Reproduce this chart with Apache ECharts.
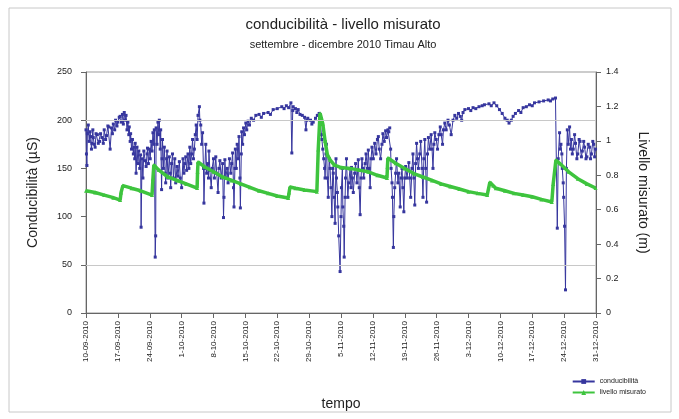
<!DOCTYPE html>
<html>
<head>
<meta charset="utf-8">
<script src="https://cdn.jsdelivr.net/npm/echarts@6/dist/echarts.min.js"></script>
<style>
  html, body { margin: 0; padding: 0; background: #fff; }
  #chart { width: 679px; height: 419px; }
</style>
</head>
<body>
<div id="chart"></div>
<script>
// giorni dal 10-09-2010
const tickLabels = ["10-09-2010","17-09-2010","24-09-2010","1-10-2010","8-10-2010","15-10-2010",
  "22-10-2010","29-10-2010","5-11-2010","12-11-2010","19-11-2010","26-11-2010","3-12-2010",
  "10-12-2010","17-12-2010","24-12-2010","31-12-2010"];

// conducibilità (µS): [giorno, valore]
const conducibilita = [
  [0,190],[0.1,165],[0.2,153],[0.3,186],[0.5,195],[0.7,178],[0.9,188],[1,183],[1.2,170],[1.3,176],
  [1.5,190],[1.6,182],[1.8,175],[2,172],[2.2,186],[2.5,185],[2.7,176],[3,178],[3.2,186],[3.5,182],
  [3.8,176],[4,190],[4.3,180],[4.5,184],[4.8,194],[5,193],[5.3,170],[5.6,192],[5.8,186],[6,196],
  [6.3,190],[6.5,200],[6.8,194],[7,198],[7.3,203],[7.5,204],[7.8,198],[8,206],[8.2,196],[8.4,208],
  [8.6,200],[8.8,205],[9,190],[9.2,198],[9.4,185],[9.5,193],[9.7,178],[9.8,186],[10,170],[10.2,180],
  [10.4,165],[10.5,172],[10.7,160],[10.8,176],[11,145],[11.2,172],[11.4,155],[11.6,168],[11.8,150],
  [12,164],[12.1,89],[12.3,160],[12.5,140],[12.7,168],[13,158],[13.2,152],[13.4,165],[13.5,171],
  [13.7,155],[13.9,170],[14.1,160],[14.3,178],[14.5,168],[14.7,187],[14.9,175],[15,190],[15.2,58],
  [15.3,80],[15.4,192],[15.6,175],[15.8,198],[16,185],[16.1,200],[16.3,170],[16.4,190],[16.6,128],
  [16.7,160],[16.8,180],[17,150],[17.2,172],[17.4,145],[17.5,135],[17.7,160],[17.8,168],[18,140],
  [18.3,162],[18.5,145],[18.6,130],[18.8,155],[19,165],[19.2,140],[19.5,160],[19.7,135],[20,152],
  [20.2,142],[20.5,157],[20.7,140],[21,130],[21.3,160],[21.5,145],[21.7,155],[21.9,162],[22.1,148],
  [22.4,165],[22.6,150],[22.8,172],[23,155],[23.2,165],[23.4,180],[23.6,160],[23.8,170],[24,185],
  [24.2,195],[24.4,180],[24.6,205],[24.9,214],[25,200],[25.2,195],[25.4,175],[25.6,187],[25.8,150],
  [25.9,114],[26.1,150],[26.3,175],[26.5,145],[26.7,155],[26.9,140],[27,168],[27.2,148],[27.5,130],
  [27.7,150],[28,160],[28.2,140],[28.5,162],[28.7,145],[29,125],[29.2,150],[29.4,158],[29.7,140],
  [30,155],[30.2,99],[30.3,120],[30.5,159],[30.7,140],[31,150],[31.2,135],[31.5,160],[31.8,145],
  [32,155],[32.2,166],[32.4,130],[32.5,110],[32.7,150],[32.8,170],[33,150],[33.2,175],[33.4,160],
  [33.6,183],[33.8,140],[33.9,109],[34.1,165],[34.2,188],[34.4,175],[34.6,192],[34.8,185],[35.1,197],
  [35.3,190],[35.6,199],[35.9,195],[36.3,202],[36.8,200],[37.3,205],[38,206],[38.5,203],[39,207],
  [40,208],[40.5,206],[41.1,211],[42,212],[43,214],[43.5,212],[44,215],[44.5,213],[45,218],[45.2,166],
  [45.4,210],[45.5,214],[46,212],[46.3,208],[46.6,211],[47,206],[47.5,205],[48,203],[48.3,190],
  [48.5,200],[48.7,202],[49.3,200],[49.6,196],[49.9,198],[50.4,202],[50.8,205],[51.2,207],[51.4,200],
  [51.5,196],[51.7,185],[51.8,180],[52,170],[52.2,160],[52.4,150],[52.5,140],[52.7,165],[52.8,175],
  [53,140],[53.2,120],[53.4,160],[53.6,150],[53.8,130],[54,100],[54.2,150],[54.3,145],[54.5,120],
  [54.7,93],[54.9,160],[55,140],[55.2,125],[55.3,110],[55.5,80],[55.8,43],[56,100],[56.1,130],
  [56.3,150],[56.4,110],[56.6,90],[56.7,58],[56.9,120],[57,140],[57.2,160],[57.5,120],[57.7,135],
  [58,150],[58.2,130],[58.3,151],[58.5,140],[58.7,125],[59,145],[59.2,155],[59.5,135],[59.8,159],
  [60,130],[60.2,102],[60.4,140],[60.6,160],[60.8,150],[61,140],[61.3,155],[61.5,165],[61.8,150],
  [62,169],[62.2,150],[62.4,130],[62.6,160],[62.8,172],[63.1,160],[63.4,176],[63.7,165],[64,180],
  [64.2,183],[64.4,170],[64.7,160],[65,175],[65.2,186],[65.5,178],[65.8,189],[66,182],[66.3,190],
  [66.5,188],[66.7,192],[66.9,170],[67,150],[67.2,135],[67.3,120],[67.5,68],[67.6,100],[67.8,130],
  [68,145],[68.2,160],[68.5,135],[68.7,145],[69,110],[69.2,140],[69.4,150],[69.6,130],[69.8,105],
  [70,140],[70.2,152],[70.5,140],[70.9,156],[71.1,140],[71.3,120],[71.6,150],[71.8,165],[72,140],
  [72.2,112],[72.4,155],[72.6,176],[72.8,160],[73,150],[73.3,165],[73.5,178],[73.8,150],[74,120],
  [74.2,160],[74.4,180],[74.6,150],[74.8,115],[75,165],[75.2,182],[75.5,170],[75.8,185],[76,170],
  [76.2,150],[76.4,175],[76.6,187],[76.9,180],[77.2,170],[77.5,185],[77.8,193],[78,185],[78.3,175],
  [78.5,190],[78.8,197],[79.1,190],[79.5,200],[79.8,195],[80.2,185],[80.6,200],[81,205],[81.4,202],
  [81.8,207],[82.2,204],[82.5,200],[82.8,208],[83.2,211],[84,212],[84.5,210],[85,213],[85.6,212],
  [86.3,214],[87,215],[87.5,216],[88.5,217],[89,215],[89.6,218],[90.2,215],[90.8,211],[91.4,207],
  [92,202],[92.5,200],[92.9,197],[93.4,200],[93.8,204],[94.3,207],[95,210],[95.5,208],[96,213],
  [96.7,214],[97.4,216],[98,215],[98.5,218],[99.5,219],[100.5,220],[101.5,221],[102,220],[102.5,222],
  [103.1,223],[103.5,88],[103.7,160],[104,187],[104.1,170],[104.3,175],[104.5,165],[104.6,150],
  [104.8,135],[104.9,120],[105.1,90],[105.3,24],[105.5,150],[105.7,190],[105.9,175],[106.2,193],
  [106.4,170],[106.6,180],[106.8,165],[107,170],[107.3,185],[107.5,176],[107.8,160],[108,165],
  [108.3,180],[108.5,178],[108.8,162],[109,168],[109.3,178],[109.5,172],[109.8,160],[110,162],
  [110.3,175],[110.6,172],[110.8,160],[111,165],[111.3,178],[111.5,175],[111.7,162],[111.9,170]
];

// livello misurato (m): [giorno, valore]
const livello = [
  [0,0.71],[2,0.70],[4,0.685],[6,0.67],[7.5,0.656],[7.7,0.70],[8.1,0.74],[10,0.725],[12,0.71],
  [14.5,0.685],[14.7,0.78],[14.9,0.86],[16,0.83],[18,0.79],[20,0.77],[22,0.75],[24.4,0.726],
  [24.5,0.82],[24.6,0.877],[26,0.85],[28,0.82],[30,0.79],[32,0.77],[34,0.75],[36,0.73],[38,0.71],
  [40,0.695],[42,0.68],[44.4,0.668],[44.6,0.70],[44.8,0.732],[46,0.725],[48,0.715],[50.7,0.705],
  [51,0.95],[51.4,1.16],[52,1.10],[52.5,1.0],[53,0.92],[53.6,0.89],[54.5,0.86],[56,0.845],[58,0.84],
  [60,0.83],[62,0.82],[64,0.80],[66.1,0.784],[66.2,0.85],[66.3,0.90],[68,0.87],[70,0.84],[72,0.81],
  [74,0.79],[76,0.77],[78,0.75],[80,0.735],[82,0.72],[84,0.705],[86,0.695],[88.1,0.685],[88.7,0.76],
  [89.4,0.74],[90,0.725],[92,0.71],[94,0.695],[96,0.685],[98,0.675],[100,0.66],[102.3,0.645],
  [102.6,0.75],[103.2,0.889],[104,0.87],[106,0.82],[108,0.78],[110,0.75],[111.9,0.726]
];

const chart = echarts.init(document.getElementById("chart"));
const txt = "#222";

chart.setOption({
  backgroundColor: "#fff",
  animation: false,
  graphic: [{
    type: "rect",
    shape: { x: 9, y: 8, width: 662, height: 404 },
    style: { fill: "none", stroke: "#c8c8c8", lineWidth: 1 }
  }],
  title: [
    { text: "conducibilità - livello misurato", left: 338, top: 12, textAlign: "center",
      textStyle: { fontFamily: "Liberation Sans", fontSize: 15, fontWeight: "normal", color: txt } },
    { text: "settembre - dicembre 2010 Timau Alto", left: 338, top: 34, textAlign: "center",
      textStyle: { fontFamily: "Liberation Sans", fontSize: 11, fontWeight: "normal", color: txt } }
  ],
  legend: {
    orient: "vertical", right: 28, bottom: 18, itemGap: 4, itemWidth: 22, itemHeight: 6,
    textStyle: { fontFamily: "Liberation Sans", fontSize: 7, color: txt },
    data: ["conducibilità", "livello misurato"]
  },
  grid: { left: 86, right: 83, top: 72, bottom: 106, show: true, borderColor: "#999", borderWidth: 1 },
  xAxis: {
    type: "value", min: 0, max: 112, interval: 7,
    name: "tempo", nameLocation: "middle", nameGap: 84,
    nameTextStyle: { fontFamily: "Liberation Sans", fontSize: 14, color: txt },
    axisLine: { lineStyle: { color: "#666" } },
    axisTick: { show: true, lineStyle: { color: "#666" } },
    splitLine: { show: false },
    axisLabel: { rotate: 90, fontSize: 8, color: txt, fontFamily: "Liberation Sans",
      formatter: v => tickLabels[Math.round(v / 7)] }
  },
  yAxis: [
    { type: "value", min: 0, max: 250, interval: 50, position: "left",
      name: "Conducibilità (µS)", nameLocation: "middle", nameGap: 46,
      nameTextStyle: { fontFamily: "Liberation Sans", fontSize: 14, color: txt },
      axisLine: { show: true, lineStyle: { color: "#666" } },
      axisTick: { show: true, lineStyle: { color: "#666" } },
      splitLine: { show: false },
      axisLabel: { fontSize: 9, color: txt, fontFamily: "Liberation Sans", margin: 14 } },
    { type: "value", min: 0, max: 1.4, interval: 0.2, position: "right",
      name: "Livello misurato (m)", nameLocation: "middle", nameGap: 40, nameRotate: -90,
      nameTextStyle: { fontFamily: "Liberation Sans", fontSize: 14, color: txt },
      axisLine: { show: true, lineStyle: { color: "#666" } },
      axisTick: { show: true, lineStyle: { color: "#666" } },
      splitLine: { show: false },
      axisLabel: { fontSize: 9, color: txt, fontFamily: "Liberation Sans", margin: 10 } }
  ],
  series: [
    {
      name: "conducibilità", type: "line", yAxisIndex: 0, data: conducibilita,
      symbol: "rect", symbolSize: 3, showAllSymbol: true,
      itemStyle: { color: "#36369e" },
      lineStyle: { color: "#36369e", width: 1 },
      markLine: {
        silent: true, symbol: "none", label: { show: false },
        lineStyle: { color: "#c8c8c8", type: "solid", width: 1 },
        data: [{ yAxis: 50 }, { yAxis: 200 }]
      },
      z: 2
    },
    {
      name: "livello misurato", type: "line", yAxisIndex: 1, data: livello,
      symbol: "triangle", symbolSize: 4, showAllSymbol: true,
      itemStyle: { color: "#3ec43e" },
      lineStyle: { color: "#3ec43e", width: 3.5 },
      z: 3
    }
  ]
});
</script>
</body>
</html>
